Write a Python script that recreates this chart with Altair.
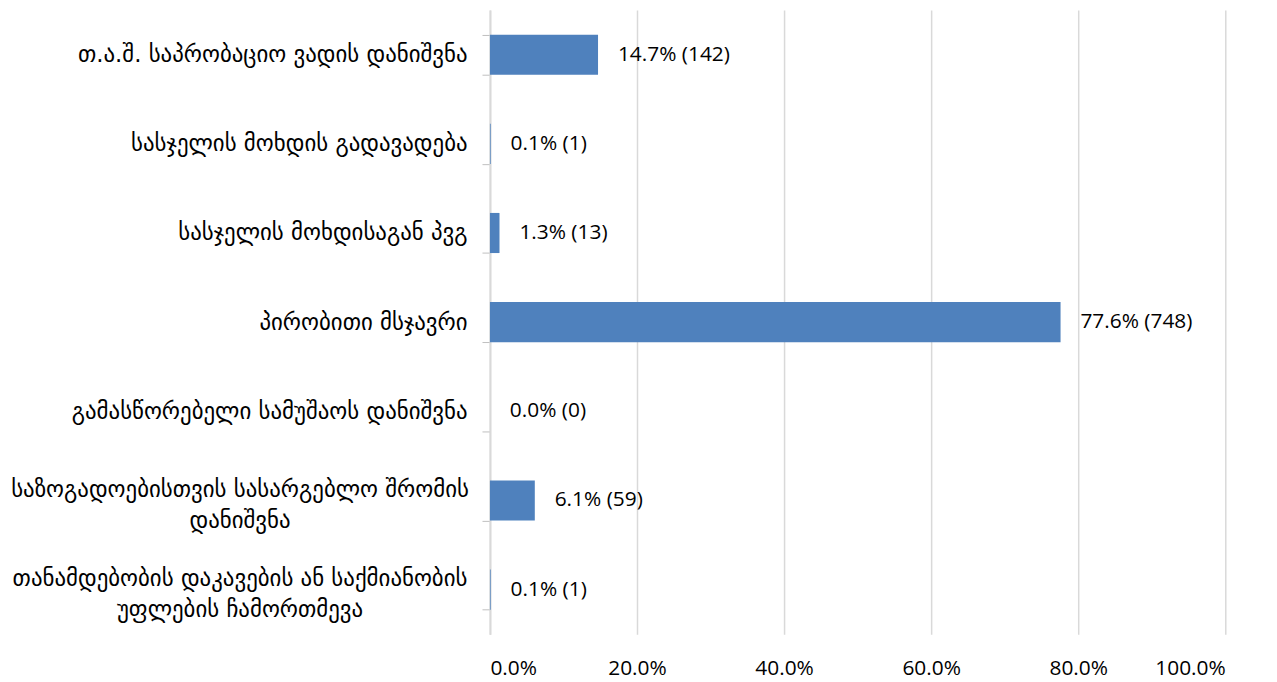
import altair as alt
import pandas as pd

categories = [
    "თ.ა.შ. საპრობაციო ვადის დანიშვნა",
    "სასჯელის მოხდის გადავადება",
    "სასჯელის მოხდისაგან პვგ",
    "პირობითი მსჯავრი",
    "გამასწორებელი სამუშაოს დანიშვნა",
    "საზოგადოებისთვის სასარგებლო შრომის|დანიშვნა",
    "თანამდებობის დაკავების ან საქმიანობის|უფლების ჩამორთმევა",
]
percents = [14.7, 0.1, 1.3, 77.6, 0.0, 6.1, 0.1]
counts = [142, 1, 13, 748, 0, 59, 1]
x_ticks = [0, 20, 40, 60, 80, 100]

df = pd.DataFrame({"cat": categories, "pct": percents, "n": counts})
df["label"] = [f"{p:.1f}% ({c})" for p, c in zip(percents, counts)]

multi = "indexof(datum.label, '|') >= 0"

y_enc = alt.Y(
    "cat:N",
    sort=categories,
    title=None,
    scale=alt.Scale(paddingInner=0.55, paddingOuter=0.275),
    axis=alt.Axis(
        labelExpr="split(datum.label, '|')",
        labelFont="DejaVu Sans",
        labelFontSize=23,
        labelColor="#000000",
        labelLineHeight=31,
        labelAlign={"condition": {"test": multi, "value": "center"}, "value": "right"},
        labelPadding={"condition": {"test": multi, "value": 244}, "value": 15},
        labelOffset={"condition": {"test": multi, "value": -11}, "value": 0},
        labelLimit=0,
        tickBand="extent",
        ticks=True,
        tickSize=8,
        tickColor="#bfbfbf",
        tickWidth=1,
        domainColor="#d9d9d9",
        domainWidth=2,
        grid=False,
    ),
)

x_enc = alt.X(
    "pct:Q",
    title=None,
    scale=alt.Scale(domain=[0, 100], nice=False),
    axis=alt.Axis(
        values=x_ticks,
        labelExpr="format(datum.value, '.1f') + '%'",
        labelFont="Open Sans",
        labelFontSize=21,
        labelColor="#000000",
        labelPadding=24,
        ticks=False,
        domain=False,
        grid=True,
        gridColor="#d9d9d9",
        gridWidth=1.5,
    ),
)

bars = alt.Chart(df).mark_bar(color="#4F81BD").encode(x=x_enc, y=y_enc)

texts = alt.Chart(df).mark_text(
    align="left", baseline="middle", dx=20, font="Open Sans", fontSize=21, color="#000000"
).encode(
    x=alt.X("pct:Q", scale=alt.Scale(domain=[0, 100], nice=False)),
    y=alt.Y("cat:N", sort=categories),
    text="label:N",
)

chart = (
    alt.layer(bars, texts)
    .properties(
        width=740,
        height=628,
        autosize=alt.AutoSizeParams(type="none"),
        padding={"left": 485, "top": 0, "right": 44, "bottom": 46},
    )
    .configure_view(stroke=None)
)

chart.save("out.html", embed_options={"renderer": "svg", "actions": False})
